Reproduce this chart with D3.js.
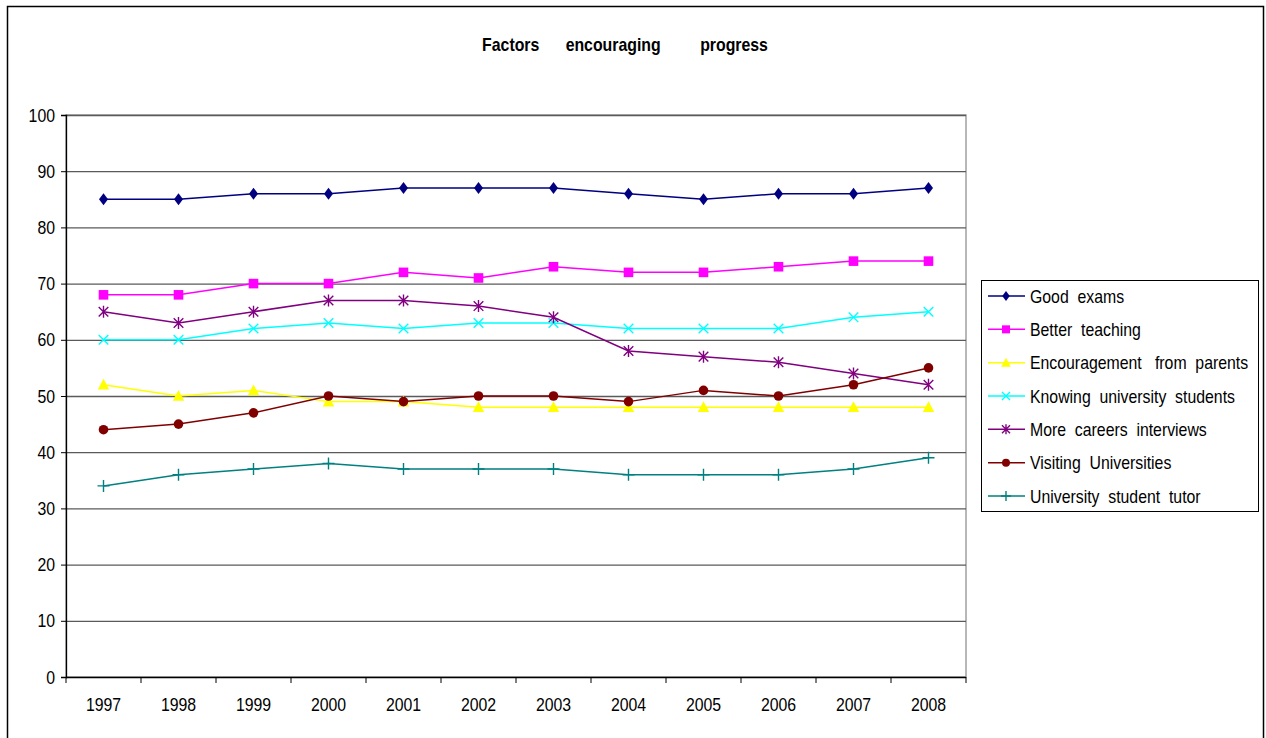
<!DOCTYPE html>
<html>
<head>
<meta charset="utf-8">
<script src="https://cdnjs.cloudflare.com/ajax/libs/d3/7.8.5/d3.min.js"></script>
<style>
  html, body { margin: 0; padding: 0; background: #fff; }
  svg { display: block; }
  text { font-family: "Liberation Sans", Arial, sans-serif; white-space: pre; }
</style>
</head>
<body>
<svg id="chart" width="1266" height="738"></svg>
<script>
// Years on the category axis
const years = ["1997","1998","1999","2000","2001","2002","2003","2004","2005","2006","2007","2008"];

// Percentage citing each factor, per year
const goodExams       = [85, 85, 86, 86, 87, 87, 87, 86, 85, 86, 86, 87];
const betterTeaching  = [68, 68, 70, 70, 72, 71, 73, 72, 72, 73, 74, 74];
const parents         = [52, 50, 51, 49, 49, 48, 48, 48, 48, 48, 48, 48];
const knowingStudents = [60, 60, 62, 63, 62, 63, 63, 62, 62, 62, 64, 65];
const careers         = [65, 63, 65, 67, 67, 66, 64, 58, 57, 56, 54, 52];
const visiting        = [44, 45, 47, 50, 49, 50, 50, 49, 51, 50, 52, 55];
const tutor           = [34, 36, 37, 38, 37, 37, 37, 36, 36, 36, 37, 39];

const seriesNames = [
  "Good  exams",
  "Better  teaching",
  "Encouragement   from  parents",
  "Knowing  university  students",
  "More  careers  interviews",
  "Visiting  Universities",
  "University  student  tutor"
];
const yTicks = [0, 10, 20, 30, 40, 50, 60, 70, 80, 90, 100];
const title = "Factors      encouraging         progress";

const seriesValues = [goodExams, betterTeaching, parents, knowingStudents, careers, visiting, tutor];
const colors  = ["#000080", "#FF00FF", "#FFFF00", "#00FFFF", "#800080", "#800000", "#008080"];
const markers = ["diamond", "square", "triangle", "x", "asterisk", "circle", "plus"];

const series = seriesNames.map((name, i) => ({
  name, values: seriesValues[i], color: colors[i], marker: markers[i]
}));

const svg = d3.select("#chart");
const plot = { left: 66, right: 966, top: 115, bottom: 677 };
const squeeze = 0.88; // horizontal condensing of all labels

const x = d3.scaleBand().domain(years).range([plot.left, plot.right]);
const y = d3.scaleLinear().domain([0, 100]).range([plot.bottom, plot.top]);
const cx = d => x(d) + x.bandwidth() / 2;

// Condense a text element horizontally around its anchor point
function condense(sel) {
  sel.each(function () {
    const t = d3.select(this);
    const tx = +t.attr("x") || 0;
    const ty = +t.attr("y") || 0;
    t.attr("x", 0).attr("y", 0)
     .attr("transform", `translate(${tx},${ty}) scale(${squeeze},1)`);
  });
}

// Outer chart frame
svg.append("rect")
  .attr("x", 7.5).attr("y", 6.5)
  .attr("width", 1256).attr("height", 740)
  .attr("fill", "none").attr("stroke", "#000").attr("stroke-width", 1.5);

// Title
svg.append("text")
  .attr("x", 625).attr("y", 51)
  .attr("text-anchor", "middle")
  .attr("font-size", 18).attr("font-weight", "bold")
  .text(title)
  .call(condense);

// Plot area border
svg.append("rect")
  .attr("x", plot.left).attr("y", plot.top)
  .attr("width", plot.right - plot.left).attr("height", plot.bottom - plot.top)
  .attr("fill", "none").attr("stroke", "#a0a0a0").attr("stroke-width", 1.5);

// Horizontal gridlines
svg.append("g")
  .selectAll("line")
  .data(yTicks.filter(t => t > 0))
  .join("line")
  .attr("x1", plot.left).attr("x2", plot.right)
  .attr("y1", d => y(d) + 0.5).attr("y2", d => y(d) + 0.5)
  .attr("stroke", "#5a5a5a").attr("stroke-width", 1.3);

// Y axis
const yAxis = svg.append("g")
  .attr("transform", `translate(${plot.left},0)`)
  .call(d3.axisLeft(y).tickValues(yTicks).tickSize(5).tickPadding(6));
yAxis.select(".domain").attr("stroke", "#000").attr("stroke-width", 1.3);
yAxis.selectAll(".tick line").attr("stroke", "#000");
yAxis.selectAll(".tick text")
  .attr("font-size", 18).attr("fill", "#000")
  .attr("font-family", null)
  .attr("dy", null)
  .attr("y", 6)
  .call(condense);

// X axis with ticks between categories
const xAxis = svg.append("g")
  .attr("transform", `translate(0,${plot.bottom})`);
xAxis.append("line")
  .attr("x1", plot.left).attr("x2", plot.right)
  .attr("y1", 0.5).attr("y2", 0.5)
  .attr("stroke", "#000").attr("stroke-width", 1.5);
const boundaries = years.map(d => x(d)).concat([plot.right]);
xAxis.selectAll("line.tick")
  .data(boundaries)
  .join("line")
  .attr("class", "tick")
  .attr("x1", d => d).attr("x2", d => d)
  .attr("y1", 0).attr("y2", 6)
  .attr("stroke", "#000");
xAxis.selectAll("text")
  .data(years)
  .join("text")
  .attr("x", d => cx(d)).attr("y", 34)
  .attr("text-anchor", "middle")
  .attr("font-size", 18)
  .text(d => d)
  .call(condense);

// Marker shapes
function drawMarker(g, type, color, size) {
  const s = size;
  switch (type) {
    case "diamond":
      g.append("path").attr("d", `M0,${-s}L${s * 0.75},0L0,${s}L${-s * 0.75},0Z`).attr("fill", color);
      break;
    case "square":
      g.append("rect").attr("x", -s * 0.8).attr("y", -s * 0.8)
        .attr("width", s * 1.6).attr("height", s * 1.6).attr("fill", color);
      break;
    case "triangle":
      g.append("path").attr("d", `M0,${-s}L${s * 0.95},${s * 0.8}L${-s * 0.95},${s * 0.8}Z`).attr("fill", color);
      break;
    case "x":
      g.append("path").attr("d", `M${-s * 0.8},${-s * 0.8}L${s * 0.8},${s * 0.8}M${-s * 0.8},${s * 0.8}L${s * 0.8},${-s * 0.8}`)
        .attr("stroke", color).attr("stroke-width", 1.4).attr("fill", "none");
      break;
    case "asterisk":
      g.append("path").attr("d", `M${-s * 0.8},${-s * 0.8}L${s * 0.8},${s * 0.8}M${-s * 0.8},${s * 0.8}L${s * 0.8},${-s * 0.8}M0,${-s}L0,${s}`)
        .attr("stroke", color).attr("stroke-width", 1.4).attr("fill", "none");
      break;
    case "circle":
      g.append("circle").attr("r", s * 0.8).attr("fill", color);
      break;
    case "plus":
      g.append("path").attr("d", `M${-s},0L${s},0M0,${-s}L0,${s}`)
        .attr("stroke", color).attr("stroke-width", 1.4).attr("fill", "none");
      break;
  }
}

// Series lines and markers
const line = d3.line().x((d, i) => cx(years[i])).y(d => y(d));
series.forEach(s => {
  const g = svg.append("g");
  g.append("path")
    .attr("d", line(s.values))
    .attr("fill", "none")
    .attr("stroke", s.color)
    .attr("stroke-width", 1.5);
  s.values.forEach((v, i) => {
    const m = g.append("g").attr("transform", `translate(${cx(years[i])},${y(v)})`);
    drawMarker(m, s.marker, s.color, 6);
  });
});

// Legend
const legend = svg.append("g");
legend.append("rect")
  .attr("x", 981.5).attr("y", 280.5)
  .attr("width", 277).attr("height", 231)
  .attr("fill", "#fff").attr("stroke", "#000").attr("stroke-width", 1);
const legendY = d3.scalePoint().domain(seriesNames).range([296, 496]);
series.forEach(s => {
  const ly = legendY(s.name);
  const item = legend.append("g");
  item.append("line")
    .attr("x1", 988).attr("x2", 1025)
    .attr("y1", ly).attr("y2", ly)
    .attr("stroke", s.color).attr("stroke-width", 1.5);
  const m = item.append("g").attr("transform", `translate(1006,${ly})`);
  drawMarker(m, s.marker, s.color, 5);
  item.append("text")
    .attr("x", 1030).attr("y", ly + 6.5)
    .attr("font-size", 18)
    .text(s.name)
    .call(condense);
});
</script>
</body>
</html>
